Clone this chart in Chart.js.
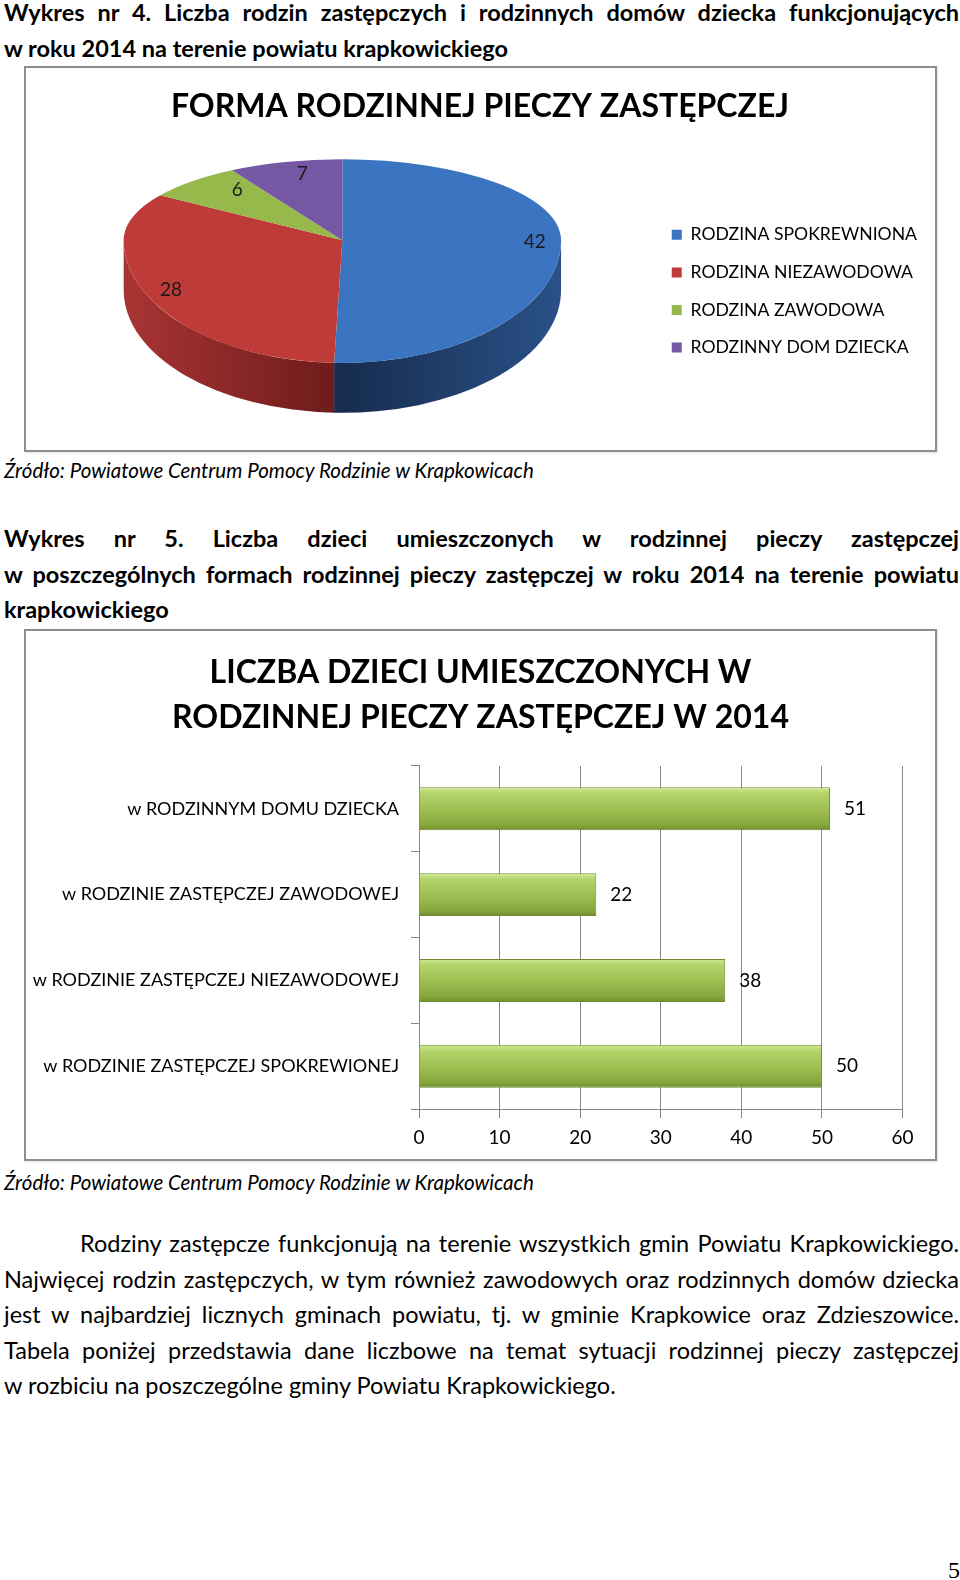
<!DOCTYPE html>
<html lang="pl">
<head>
<meta charset="utf-8">
<script src="https://cdn.jsdelivr.net/npm/chart.js@4.4.1/dist/chart.umd.min.js"></script>
<style>
  body { margin: 0; width: 960px; height: 1580px; position: relative; background: #fff; color: #000; font-family: Lato, sans-serif; overflow: hidden; }
  .txt { position: absolute; left: 4px; width: 955px; }
  .line { height: 35.5px; line-height: 35.5px; }
  .just { text-align: justify; text-align-last: justify; }
  .bold { font-weight: bold; font-size: 23.5px; }
  .para { font-size: 23.5px; }
  .src { font-style: italic; font-size: 20.5px; height: 30px; line-height: 30px; white-space: nowrap; }
  .box { position: absolute; left: 24px; width: 909px; border: 2px solid #8e8e8e; box-shadow: 1px 1px 2px rgba(0,0,0,0.12); background: #fff; }
  .box canvas { display: block; }
  .pagenum { position: absolute; right: 0; top: 1555px; font-family: "Liberation Serif", serif; font-size: 24px; line-height: 30px; }
</style>
</head>
<body>

<div class="txt bold" style="top:-5px">
  <div class="line just">Wykres nr 4. Liczba rodzin zastępczych i rodzinnych domów dziecka funkcjonujących</div>
  <div class="line">w roku 2014 na terenie powiatu krapkowickiego</div>
</div>

<div class="box" style="top:66px; height:382px"><canvas id="pie" width="909" height="382"></canvas></div>

<div class="txt src" style="top:455px">Źródło: Powiatowe Centrum Pomocy Rodzinie w Krapkowicach</div>

<div class="txt bold" style="top:521px">
  <div class="line just">Wykres nr 5. Liczba dzieci umieszczonych w rodzinnej pieczy zastępczej</div>
  <div class="line just">w poszczególnych formach rodzinnej pieczy zastępczej w roku 2014 na terenie powiatu</div>
  <div class="line">krapkowickiego</div>
</div>

<div class="box" style="top:629px; height:528px"><canvas id="bars" width="909" height="528"></canvas></div>

<div class="txt src" style="top:1167px">Źródło: Powiatowe Centrum Pomocy Rodzinie w Krapkowicach</div>

<div class="txt para" style="top:1226px">
  <div class="line just" style="padding-left:76px">Rodziny zastępcze funkcjonują na terenie wszystkich gmin Powiatu Krapkowickiego.</div>
  <div class="line just">Najwięcej rodzin zastępczych, w tym również zawodowych oraz rodzinnych domów dziecka</div>
  <div class="line just">jest w najbardziej licznych gminach powiatu, tj. w gminie Krapkowice oraz Zdzieszowice.</div>
  <div class="line just">Tabela poniżej przedstawia dane liczbowe na temat sytuacji rodzinnej pieczy zastępczej</div>
  <div class="line">w rozbiciu na poszczególne gminy Powiatu Krapkowickiego.</div>
</div>

<div class="pagenum">5</div>

<script>
// wykres 4 - forma rodzinnej pieczy zastepczej
const famLabels = ['RODZINA SPOKREWNIONA', 'RODZINA NIEZAWODOWA', 'RODZINA ZAWODOWA', 'RODZINNY DOM DZIECKA'];
const famValues = [42, 28, 6, 7];
const famColors = ['#3b74c0', '#bf3b39', '#97b94b', '#7557a4'];
const famSide = [['#2b5188', '#162d4e'], ['#a83534', '#6c1b1a'], ['#6f8c30', '#4f6820'], ['#56407a', '#3b2b57']];

// wykres 5 - liczba dzieci
const childLabels = ['w RODZINNYM DOMU DZIECKA', 'w RODZINIE ZASTĘPCZEJ ZAWODOWEJ', 'w RODZINIE ZASTĘPCZEJ NIEZAWODOWEJ', 'w RODZINIE ZASTĘPCZEJ SPOKREWIONEJ'];
const childValues = [51, 22, 38, 50];
const xMin = 0, xMax = 60, xStep = 10;

const FONT = 'Lato';

// fake 3d pie: squash the library arcs, add a side wall
const pie3d = {
  id: 'pie3d',
  beforeDatasetsDraw(chart, args, o) {
    const ctx = chart.ctx;
    const arcs = chart.getDatasetMeta(0).data;
    const ax = arcs[0].x, ay = arcs[0].y, r = arcs[0].outerRadius;
    const cx = ax, cy = ay + o.shift * r;
    const rx = o.rx * r, ryT = o.ryTop * r, ryB = o.ryBottom * r, d = o.depth * r;

    arcs.forEach((arc, i) => {
      const s = Math.max(arc.startAngle, 0), e = Math.min(arc.endAngle, Math.PI);
      if (e <= s) return;
      const g = ctx.createLinearGradient(cx - rx, 0, cx + rx, 0);
      g.addColorStop(0, famSide[i][0]);
      g.addColorStop(0.5, famSide[i][1]);
      g.addColorStop(1, famSide[i][0]);
      ctx.beginPath();
      ctx.ellipse(cx, cy, rx, ryB, 0, s, e, false);
      ctx.ellipse(cx, cy + d, rx, ryB, 0, e, s, true);
      ctx.closePath();
      ctx.fillStyle = g;
      ctx.fill();
    });

    [[-1000, cy + 0.5, ryT], [cy - 0.5, 2000, ryB]].forEach(([y0, y1, ry]) => {
      ctx.save();
      ctx.beginPath();
      ctx.rect(0, y0, chart.width, y1 - y0);
      ctx.clip();
      ctx.translate(cx, cy);
      ctx.scale(rx / r, ry / r);
      ctx.translate(-ax, -ay);
      arcs.forEach(arc => arc.draw(ctx));
      ctx.restore();
    });

    // value labels, far half pulled in a bit (perspective)
    ctx.save();
    ctx.font = '19px ' + FONT;
    ctx.fillStyle = '#1a1a1a';
    ctx.textAlign = 'center';
    ctx.textBaseline = 'middle';
    arcs.forEach((arc, i) => {
      const m = (arc.startAngle + arc.endAngle) / 2;
      const sn = Math.sin(m), far = sn < 0;
      const x = cx + (far ? o.labelFarX : o.labelNear) * rx * Math.cos(m);
      const y = cy + (far ? o.labelFarY * ryT : o.labelNear * ryB) * sn;
      ctx.fillText(chart.data.datasets[0].data[i], x, y);
    });
    ctx.restore();
    return false;
  }
};

new Chart(document.getElementById('pie'), {
  type: 'pie',
  data: {
    labels: famLabels,
    datasets: [{ data: famValues, backgroundColor: famColors, borderWidth: 0, clip: false }]
  },
  options: {
    responsive: false,
    animation: false,
    events: [],
    layout: { padding: { left: 7, right: 8, bottom: 13 } },
    plugins: {
      title: {
        display: true,
        text: 'FORMA RODZINNEJ PIECZY ZASTĘPCZEJ',
        color: '#000',
        font: { family: FONT, size: 32, weight: 'bold' },
        padding: { top: 19, bottom: 20 }
      },
      legend: {
        position: 'right',
        fullSize: false,
        labels: {
          color: '#000',
          font: { family: FONT, size: 17.6 },
          boxWidth: 10,
          boxHeight: 10,
          padding: 20
        }
      },
      tooltip: { enabled: false },
      pie3d: { rx: 1.5, ryTop: 0.555, ryBottom: 0.842, depth: 0.342, shift: -0.35, labelNear: 0.88, labelFarX: 0.7, labelFarY: 0.85 }
    }
  },
  plugins: [pie3d]
});

// bar value labels
const barValues = {
  id: 'barValues',
  afterDatasetsDraw(chart) {
    const ctx = chart.ctx;
    ctx.save();
    ctx.font = '19px ' + FONT;
    ctx.fillStyle = '#000';
    ctx.textAlign = 'left';
    ctx.textBaseline = 'middle';
    chart.getDatasetMeta(0).data.forEach((bar, i) => {
      ctx.fillText(chart.data.datasets[0].data[i], bar.x + 14, bar.y);
    });
    ctx.restore();
  }
};

const BAR_PCT = 0.5;
function barFill(c) {
  const ch = c.chart;
  if (!ch.chartArea || !ch.scales.y) return '#9bbb59';
  const y0 = ch.scales.y.getPixelForValue(c.dataIndex - BAR_PCT / 2);
  const y1 = ch.scales.y.getPixelForValue(c.dataIndex + BAR_PCT / 2);
  const g = ch.ctx.createLinearGradient(0, y0, 0, y1);
  g.addColorStop(0, '#d2ea95');
  g.addColorStop(0.15, '#b3d36a');
  g.addColorStop(0.55, '#9cbd50');
  g.addColorStop(0.88, '#86a63c');
  g.addColorStop(1, '#6f8c2c');
  return g;
}

const gray = '#878787';
new Chart(document.getElementById('bars'), {
  type: 'bar',
  data: {
    labels: childLabels,
    datasets: [{
      data: childValues,
      backgroundColor: barFill,
      borderColor: '#6f8b30',
      borderWidth: 1,
      borderSkipped: 'start',
      barPercentage: BAR_PCT,
      categoryPercentage: 1
    }]
  },
  options: {
    indexAxis: 'y',
    responsive: false,
    animation: false,
    events: [],
    layout: { padding: { bottom: 2 } },
    scales: {
      x: {
        min: xMin,
        max: xMax,
        ticks: { stepSize: xStep, color: '#000', font: { family: FONT, size: 19 }, padding: 8 },
        grid: { color: gray, tickLength: 9 },
        border: { color: gray }
      },
      y: {
        afterFit(scale) { scale.width = 393; },
        ticks: { color: '#000', font: { family: FONT, size: 18 }, padding: 12 },
        grid: { drawOnChartArea: false, offset: true, color: gray, tickLength: 8 },
        border: { color: gray }
      },
      // empty right margin of the plot
      yRight: {
        type: 'category',
        position: 'right',
        afterFit(scale) { scale.width = 32.5; },
        ticks: { display: false },
        grid: { display: false },
        border: { display: false }
      }
    },
    plugins: {
      legend: { display: false },
      tooltip: { enabled: false },
      title: {
        display: true,
        text: ['LICZBA DZIECI UMIESZCZONYCH W', 'RODZINNEJ PIECZY ZASTĘPCZEJ W 2014'],
        color: '#000',
        font: { family: FONT, size: 32, weight: 'bold', lineHeight: 1.42 },
        padding: { top: 19, bottom: 25 }
      }
    }
  },
  plugins: [barValues]
});
</script>
</body>
</html>
